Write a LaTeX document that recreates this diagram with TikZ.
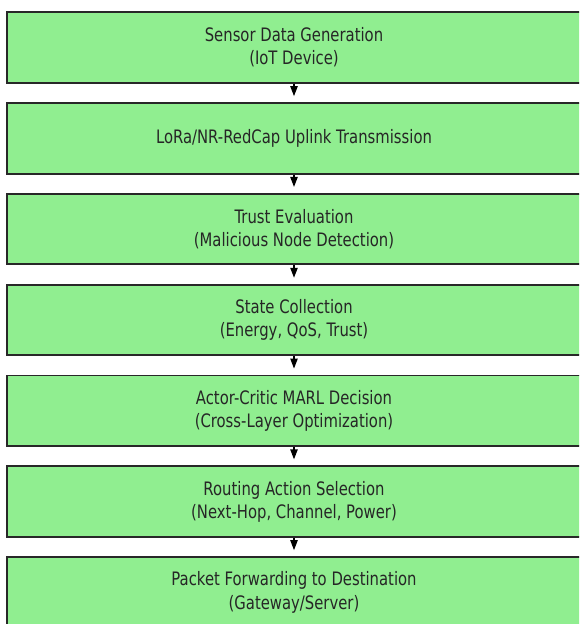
\documentclass[tikz,border=0pt]{standalone}
\usepackage{fontspec}
\setmainfont{DejaVu Sans}[FakeStretch=0.8]
\usetikzlibrary{arrows.meta, positioning}
\definecolor{boxgreen}{RGB}{144,238,144}
\definecolor{edgegray}{RGB}{40,40,40}

\begin{document}
\begin{tikzpicture}[x=0.75pt, y=-0.75pt,
    stage/.style={draw=edgegray, line width=1.4pt, fill=boxgreen,
        minimum width=430.5pt, minimum height=52.9pt, inner sep=0pt,
        align=center, text=black!85, font=\fontsize{13.9pt}{17.3pt}\selectfont},
    flow/.style={line width=1pt, -{Triangle[length=7.5pt, width=5.5pt]}, shorten >=4.5pt}]

\clip (0,0) rectangle (579,624);

\foreach \i/\txt in {1/{Sensor Data Generation\\(IoT Device)},
                     2/{LoRa/NR-RedCap Uplink Transmission},
                     3/{Trust Evaluation\\(Malicious Node Detection)},
                     4/{State Collection\\(Energy, QoS, Trust)},
                     5/{Actor-Critic MARL Decision\\(Cross-Layer Optimization)},
                     6/{Routing Action Selection\\(Next-Hop, Channel, Power)},
                     7/{Packet Forwarding to Destination\\(Gateway/Server)}} {
    \node[stage] (b\i) at (294, {47.55+90.8*(\i-1)}) {\txt};
}

\foreach \i [count=\j from 2] in {1,...,6} {
    \draw[flow] (b\i.south) -- (b\j.north);
}
\end{tikzpicture}
\end{document}
